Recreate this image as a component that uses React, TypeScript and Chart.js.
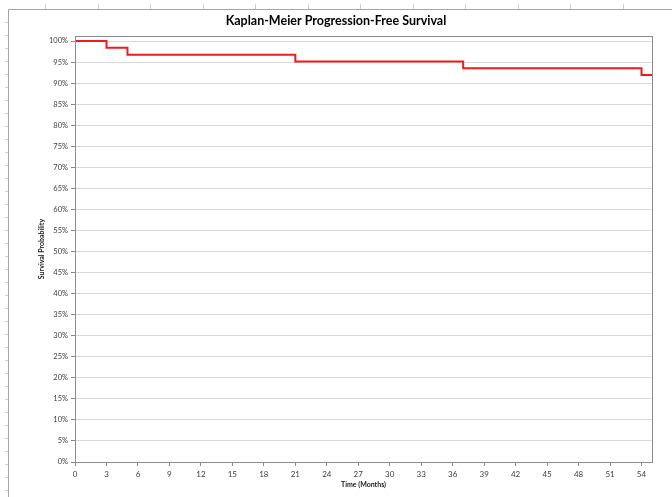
import React, { useEffect, useRef } from "react";
import { Chart, registerables } from "chart.js";

Chart.register(...registerables);

const titleText = "Kaplan-Meier Progression-Free Survival";
const xTitle = "Time (Months)";
const yTitle = "Survival Probability";
const times = [0, 3, 5, 21, 37, 54, 55];
const survival = [100, 98.39, 96.77, 95.16, 93.55, 91.94, 91.94];
const xTickValues = [0, 3, 6, 9, 12, 15, 18, 21, 24, 27, 30, 33, 36, 39, 42, 45, 48, 51, 54];
const yTickValues = [0, 5, 10, 15, 20, 25, 30, 35, 40, 45, 50, 55, 60, 65, 70, 75, 80, 85, 90, 95, 100];
const xMax = 55;
const yMax = 101.2;

const FONT = "Lato, 'Open Sans', sans-serif";

const framePlugin = {
  id: "frame",
  beforeDraw(chart: any) {
    const ctx = chart.ctx;
    ctx.save();
    ctx.fillStyle = "#ffffff";
    ctx.fillRect(0, 0, chart.width, chart.height);
    ctx.strokeStyle = "#a6a6a6";
    ctx.lineWidth = 1;
    ctx.beginPath();
    ctx.moveTo(8.5, chart.height);
    ctx.lineTo(8.5, 9.5);
    ctx.lineTo(chart.width, 9.5);
    ctx.stroke();
    ctx.strokeStyle = "#d0d0d0";
    ctx.beginPath();
    for (let x = 45; x < chart.width; x += 52.5) {
      const px = Math.round(x) + 0.5;
      ctx.moveTo(px, 4);
      ctx.lineTo(px, 9);
    }
    for (let y = 22; y < chart.height; y += 13) {
      const py = Math.round(y) + 0.5;
      ctx.moveTo(5, py);
      ctx.lineTo(8, py);
    }
    ctx.stroke();
    ctx.restore();
  },
  afterDraw(chart: any) {
    const { ctx, chartArea } = chart;
    ctx.save();
    ctx.strokeStyle = "#8c8c8c";
    ctx.lineWidth = 1;
    ctx.strokeRect(
      Math.round(chartArea.left) + 0.5,
      Math.round(chartArea.top) + 0.5,
      Math.round(chartArea.right - chartArea.left),
      Math.round(chartArea.bottom - chartArea.top)
    );
    ctx.restore();
  },
};

export default function App() {
  const ref = useRef<HTMLCanvasElement | null>(null);

  useEffect(() => {
    if (!ref.current) return;
    const data = times.map((t, i) => ({ x: t, y: survival[i] }));
    const chart = new Chart(ref.current, {
      type: "line",
      data: {
        datasets: [
          {
            data,
            borderColor: "#ee1c1c",
            borderWidth: 2,
            pointRadius: 0,
            stepped: true,
            fill: false,
            yAxisID: "y",
          },
        ],
      },
      options: {
        responsive: false,
        animation: false,
        layout: { padding: { left: 0, right: 0, top: 0, bottom: 0 } },
        plugins: {
          legend: { display: false },
          tooltip: { enabled: false },
          title: {
            display: true,
            text: titleText,
            color: "#000000",
            font: { family: FONT, size: 12.5, weight: "bold", lineHeight: 1.2 },
            padding: { top: 13, bottom: 8 },
          },
        },
        scales: {
          x: {
            type: "linear",
            min: 0,
            max: xMax,
            afterFit: (s: any) => {
              s.height = 35;
            },
            afterBuildTicks: (s: any) => {
              s.ticks = xTickValues.map((v) => ({ value: v }));
            },
            ticks: {
              color: "#404040",
              font: { family: FONT, size: 8 },
              padding: 4,
              maxRotation: 0,
              autoSkip: false,
            },
            grid: {
              drawOnChartArea: false,
              drawTicks: true,
              tickLength: 4,
              tickColor: "#8c8c8c",
            },
            border: { color: "#8c8c8c" },
            title: {
              display: true,
              text: xTitle,
              color: "#202020",
              font: { family: FONT, size: 7, weight: "bold", lineHeight: 1.2 },
              padding: { top: 0, bottom: 8 },
            },
          },
          y: {
            type: "linear",
            position: "left",
            min: 0,
            max: yMax,
            afterFit: (s: any) => {
              s.width = 75;
            },
            afterBuildTicks: (s: any) => {
              s.ticks = yTickValues.map((v) => ({ value: v }));
            },
            ticks: {
              color: "#404040",
              font: { family: FONT, size: 7.5 },
              padding: 3,
              autoSkip: false,
              callback: (v: any) => Math.round(Number(v)) + "%",
            },
            grid: {
              color: "#d9d9d9",
              lineWidth: 1,
              drawTicks: true,
              tickLength: 4,
              tickColor: "#8c8c8c",
            },
            border: { color: "#8c8c8c" },
            title: {
              display: true,
              text: yTitle,
              color: "#202020",
              font: { family: FONT, size: 7, weight: "bold", lineHeight: 1.2 },
              padding: { top: 38, bottom: 0 },
            },
          },
          yRight: {
            type: "linear",
            position: "right",
            min: 0,
            max: yMax,
            display: true,
            afterFit: (s: any) => {
              s.width = 20;
            },
            ticks: { display: false },
            grid: { display: false, drawOnChartArea: false },
            border: { display: false },
          },
        },
      },
      plugins: [framePlugin],
    });
    return () => chart.destroy();
  }, []);

  return (
    <div style={{ position: "fixed", left: 0, top: 0, width: 672, height: 497, background: "#fff" }}>
      <canvas ref={ref} width={672} height={497} style={{ display: "block", width: 672, height: 497 }} />
    </div>
  );
}
